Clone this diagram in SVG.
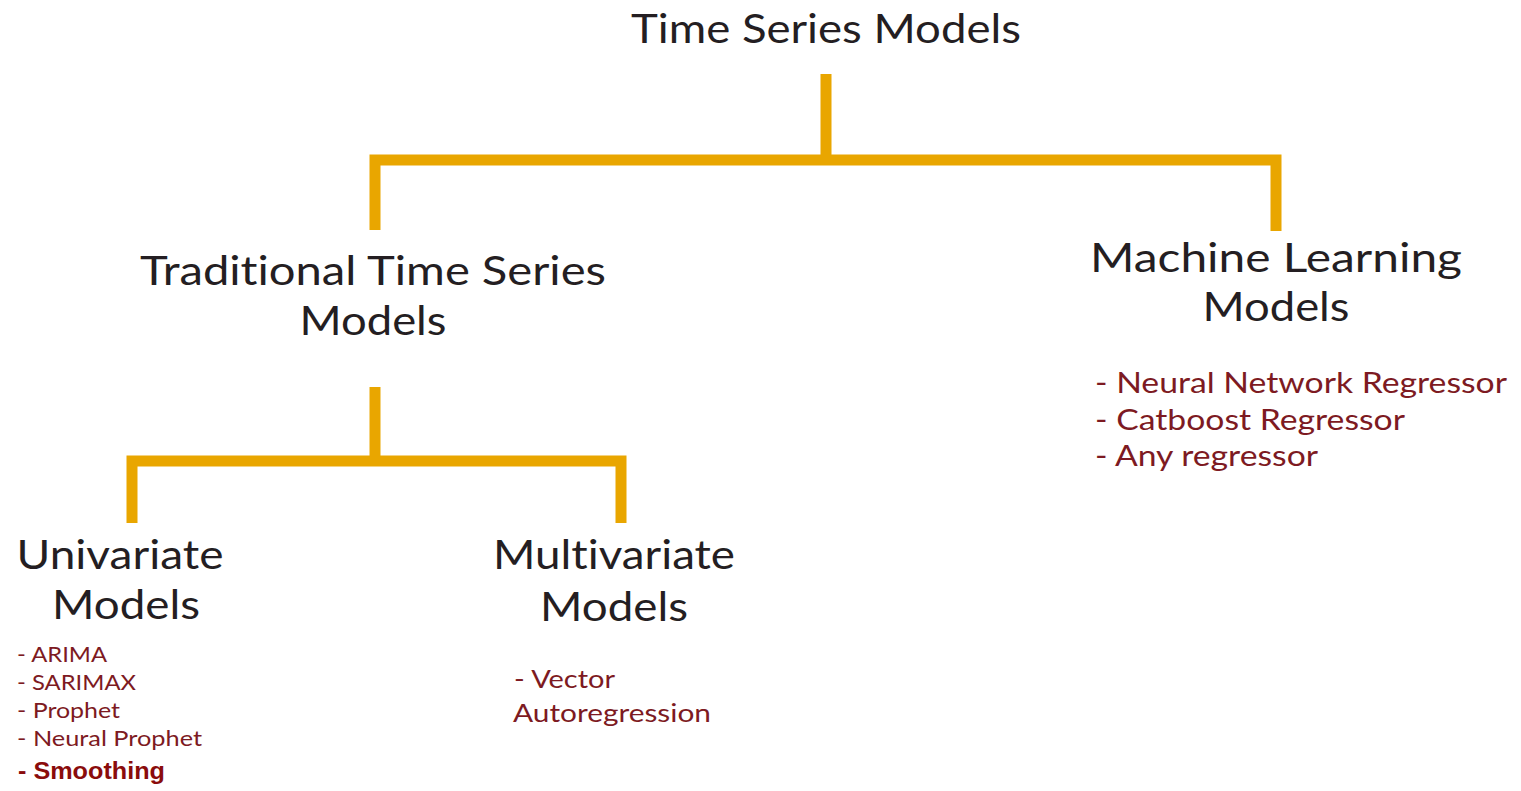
<svg xmlns="http://www.w3.org/2000/svg" width="1521" height="791" viewBox="0 0 1521 791">
<style>
text{font-variant-ligatures:none;font-feature-settings:"liga" 0,"dlig" 0}
.h{font-family:Lato,"Open Sans","Liberation Sans",sans-serif;fill:#241e22;text-anchor:middle}
.l{font-family:Lato,"Open Sans","Liberation Sans",sans-serif;fill:#7d1a22}
.b{font-family:"Liberation Sans",Arial,sans-serif;font-weight:bold;fill:#8a0c0c}
.c{fill:none;stroke:#e9a600;stroke-width:11;stroke-linecap:butt;stroke-linejoin:miter}
</style>
<rect width="1521" height="791" fill="#ffffff"/>
<g id="connectors">
<path class="c" d="M826 74 V160"/>
<path class="c" d="M375 230 V160 H1276 V231"/>
<path class="c" d="M375 387 V461"/>
<path class="c" d="M132 523 V461 H621 V523"/>
</g>
<g id="root">
<text class="h" x="826" y="43" font-size="40" textLength="390" lengthAdjust="spacingAndGlyphs">Time Series Models</text>
</g>
<g id="traditional">
<text class="h" x="373" y="285" font-size="41" textLength="466" lengthAdjust="spacingAndGlyphs">Traditional Time Series</text>
<text class="h" x="373" y="335" font-size="41" textLength="147" lengthAdjust="spacingAndGlyphs">Models</text>
</g>
<g id="ml">
<text class="h" x="1276" y="272" font-size="41" textLength="372" lengthAdjust="spacingAndGlyphs">Machine Learning</text>
<text class="h" x="1276" y="321" font-size="41" textLength="147" lengthAdjust="spacingAndGlyphs">Models</text>
<text class="l" x="1095" y="393" font-size="29" textLength="412" lengthAdjust="spacingAndGlyphs">- Neural Network Regressor</text>
<text class="l" x="1095" y="430" font-size="29" textLength="310" lengthAdjust="spacingAndGlyphs">- Catboost Regressor</text>
<text class="l" x="1095" y="466" font-size="29" textLength="223" lengthAdjust="spacingAndGlyphs">- Any regressor</text>
</g>
<g id="univariate">
<text class="h" x="120" y="569" font-size="41" textLength="207" lengthAdjust="spacingAndGlyphs">Univariate</text>
<text class="h" x="126" y="619" font-size="41" textLength="148" lengthAdjust="spacingAndGlyphs">Models</text>
<text class="l" x="17" y="662" font-size="21" textLength="90" lengthAdjust="spacingAndGlyphs">- ARIMA</text>
<text class="l" x="17" y="690" font-size="21" textLength="119" lengthAdjust="spacingAndGlyphs">- SARIMAX</text>
<text class="l" x="17" y="718" font-size="21" textLength="103" lengthAdjust="spacingAndGlyphs">- Prophet</text>
<text class="l" x="17" y="746" font-size="21" textLength="185" lengthAdjust="spacingAndGlyphs">- Neural Prophet</text>
<text class="b" x="18" y="779" font-size="24" textLength="147" lengthAdjust="spacingAndGlyphs">- Smoothing</text>
</g>
<g id="multivariate">
<text class="h" x="614" y="569" font-size="41" textLength="242" lengthAdjust="spacingAndGlyphs">Multivariate</text>
<text class="h" x="614" y="621" font-size="41" textLength="148" lengthAdjust="spacingAndGlyphs">Models</text>
<text class="l" x="514" y="688" font-size="25" textLength="101" lengthAdjust="spacingAndGlyphs">- Vector</text>
<text class="l" x="513" y="722" font-size="25" textLength="198" lengthAdjust="spacingAndGlyphs">Autoregression</text>
</g>
</svg>
